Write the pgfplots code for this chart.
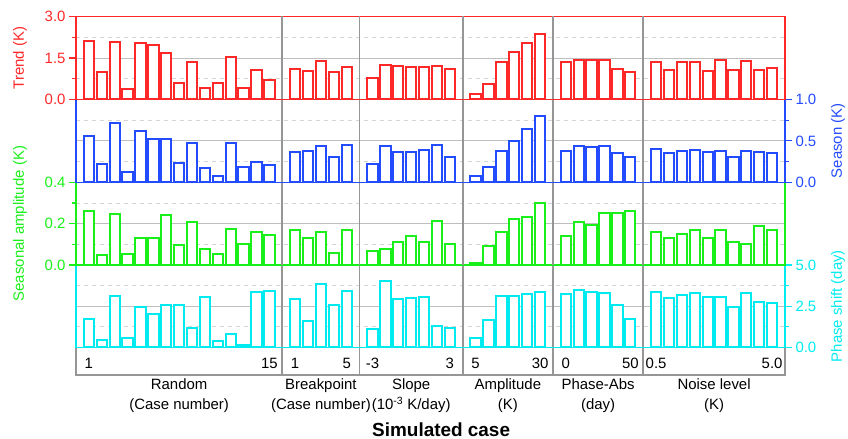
\documentclass[border=0pt]{standalone}
\usepackage{fontspec}
\setmainfont{Liberation Sans}
\usepackage{pgfplots}
\pgfplotsset{compat=1.18}
\definecolor{cR}{RGB}{255,40,40}
\definecolor{cB}{RGB}{35,75,255}
\definecolor{cG}{RGB}{25,240,25}
\definecolor{cC}{RGB}{0,235,240}
\definecolor{sep}{RGB}{150,150,150}
\definecolor{gridS}{RGB}{190,190,190}
\definecolor{gridD}{RGB}{212,212,212}
\pgfplotsset{
 panel/.style={
  scale only axis, width=709bp, anchor=south west,
  xmin=0, xmax=55, enlargelimits=false, ybar, bar width=0.8,
  xtick=\empty,
  extra x ticks={16,22,30,37,44},
  extra x tick labels={},
  extra x tick style={grid=major, major grid style={draw=sep, line width=1.6bp}, major tick length=0pt},
  ymajorgrids, yminorgrids,
  major grid style={draw=gridS, line width=0.9bp},
  minor grid style={draw=gridD, line width=0.9bp, dash pattern=on 4bp off 4bp},
  tick align=outside, major tick length=7bp, minor tick length=4bp,
  /pgf/number format/assume math mode=true,
  tick label style={font=\fontsize{15}{18}\selectfont},
  label style={font=\fontsize{15}{18}\selectfont},
 },
 pc/.style={axis line style={draw=#1, line width=1.5bp},
   every tick/.style={draw=#1, line width=1.2bp},
   yticklabel style={text=#1}, ylabel style={text=#1}},
 bars/.style={draw=#1, fill=white, line width=2bp},
}
\begin{document}
\begin{tikzpicture}
\useasboundingbox (0,0) rectangle (848bp,439bp);
% strip with category labels
\begin{axis}[scale only axis, width=709bp, height=27.7bp, at={(76bp,64bp)}, anchor=south west,
  xmin=0, xmax=55, ymin=0, ymax=1, enlargelimits=false, ytick=\empty,
  xtick={8,19,26,33.5,40.5,49.5},
  xticklabels={{Random\\(Case number)},{Breakpoint\\(Case number)},{Slope\\(10\textsuperscript{-3} K/day)},{Amplitude\\(K)},{Phase-Abs\\(day)},{Noise level\\(K)}},
  xticklabel style={align=center, font=\fontsize{15}{20}\selectfont},
  xtick style={draw=none},
  extra x ticks={16,22,30,37,44}, extra x tick labels={},
  extra x tick style={grid=major, major grid style={draw=sep, line width=1.6bp}, major tick length=0pt},
  axis line style={draw=sep, line width=1.6bp},
  xlabel={\bfseries Simulated case},
  xlabel style={font=\fontsize{19}{22}\selectfont, at={(axis description cs:0.515,-1.98)}, anchor=center},
]
\addplot[draw=none] coordinates {(0,0) (55,1)};
\end{axis}
% Phase shift
\begin{axis}[panel, pc=cC, height=82.3bp, at={(76bp,91.7bp)},
  ymin=0, ymax=5, ytick={0,2.5,5}, yticklabels={0.0,2.5,5.0}, minor ytick={1.25,3.75},
  ytick pos=right, yticklabel pos=right,
  ylabel={Phase shift (day)}, ylabel style={at={(axis description cs:1.0748,0.5)}, anchor=center},
  xtick={1,15,17,21,23,29,31,36,38,43,45,54},
  xticklabels={1,15,1,5,-3,3,5,30,0,50,0.5,5.0},
  xticklabel style={anchor=center, yshift=-9bp, text=black},
  x tick style={draw=none},
]
\addplot[bars=cC] coordinates {(1,1.70)(2,0.425)(3,3.10)(4,0.565)(5,2.47)(6,2.0)(7,2.55)(8,2.55)(9,1.17)(10,3.07)(11,0.36)(12,0.83)(13,0.12)(14,3.34)(15,3.40)
(17,2.93)(18,1.58)(19,3.86)(20,2.55)(21,3.44)
(23,1.09)(24,4.03)(25,2.95)(26,2.97)(27,3.04)(28,1.28)(29,1.19)
(31,0.565)(32,1.64)(33,3.10)(34,3.10)(35,3.22)(36,3.38)
(38,3.22)(39,3.48)(40,3.34)(41,3.30)(42,2.55)(43,1.70)
(45,3.38)(46,2.97)(47,3.16)(48,3.28)(49,3.07)(50,3.05)(51,2.43)(52,3.28)(53,2.75)(54,2.71)};
\end{axis}
% Seasonal amplitude
\begin{axis}[panel, pc=cG, height=82.7bp, at={(76bp,174bp)},
  ymin=0, ymax=0.4, ytick={0,0.2,0.4}, yticklabels={0.0,0.2,0.4}, minor ytick={0.1,0.3},
  ytick pos=left,
  ylabel={Seasonal amplitude (K)}, ylabel style={at={(axis description cs:-0.079,0.5)}, anchor=center},
]
\addplot[bars=cG] coordinates {(1,0.263)(2,0.047)(3,0.247)(4,0.055)(5,0.129)(6,0.131)(7,0.24)(8,0.095)(9,0.21)(10,0.079)(11,0.053)(12,0.176)(13,0.102)(14,0.158)(15,0.144)
(17,0.169)(18,0.131)(19,0.158)(20,0.058)(21,0.169)
(23,0.068)(24,0.079)(25,0.11)(26,0.14)(27,0.11)(28,0.211)(29,0.10)
(31,0.008)(32,0.09)(33,0.158)(34,0.222)(35,0.232)(36,0.298)
(38,0.14)(39,0.206)(40,0.192)(41,0.25)(42,0.25)(43,0.261)
(45,0.158)(46,0.131)(47,0.148)(48,0.169)(49,0.131)(50,0.169)(51,0.11)(52,0.10)(53,0.19)(54,0.169)};
\end{axis}
% Season
\begin{axis}[panel, pc=cB, height=82.8bp, at={(76bp,256.7bp)},
  ymin=0, ymax=1, ytick={0,0.5,1}, yticklabels={0.0,0.5,1.0}, minor ytick={0.25,0.75},
  ytick pos=right, yticklabel pos=right,
  ylabel={Season (K)}, ylabel style={at={(axis description cs:1.0748,0.5)}, anchor=center},
]
\addplot[bars=cB] coordinates {(1,0.564)(2,0.218)(3,0.718)(4,0.121)(5,0.625)(6,0.524)(7,0.528)(8,0.234)(9,0.48)(10,0.173)(11,0.073)(12,0.472)(13,0.185)(14,0.25)(15,0.206)
(17,0.363)(18,0.383)(19,0.44)(20,0.31)(21,0.455)
(23,0.218)(24,0.44)(25,0.371)(26,0.371)(27,0.395)(28,0.455)(29,0.306)
(31,0.073)(32,0.185)(33,0.383)(34,0.5)(35,0.645)(36,0.80)
(38,0.383)(39,0.44)(40,0.424)(41,0.443)(42,0.351)(43,0.306)
(45,0.40)(46,0.355)(47,0.375)(48,0.387)(49,0.367)(50,0.383)(51,0.31)(52,0.383)(53,0.367)(54,0.355)};
\end{axis}
% Trend
\begin{axis}[panel, pc=cR, height=83bp, at={(76bp,339.5bp)},
  ymin=0, ymax=3, ytick={0,1.5,3}, yticklabels={0.0,1.5,3.0}, minor ytick={0.75,2.25},
  ytick pos=left,
  ylabel={Trend (K)}, ylabel style={at={(axis description cs:-0.079,0.5)}, anchor=center},
]
\addplot[bars=cR] coordinates {(1,2.13)(2,0.98)(3,2.06)(4,0.37)(5,2.04)(6,1.98)(7,1.68)(8,0.59)(9,1.37)(10,0.42)(11,0.58)(12,1.53)(13,0.41)(14,1.07)(15,0.71)
(17,1.11)(18,1.04)(19,1.40)(20,0.98)(21,1.16)
(23,0.77)(24,1.23)(25,1.21)(26,1.16)(27,1.19)(28,1.21)(29,1.11)
(31,0.21)(32,0.57)(33,1.36)(34,1.70)(35,2.04)(36,2.36)
(38,1.36)(39,1.42)(40,1.43)(41,1.42)(42,1.12)(43,1.00)
(45,1.37)(46,1.07)(47,1.36)(48,1.36)(49,1.04)(50,1.42)(51,1.08)(52,1.40)(53,1.07)(54,1.13)};
\end{axis}
\end{tikzpicture}
\end{document}
